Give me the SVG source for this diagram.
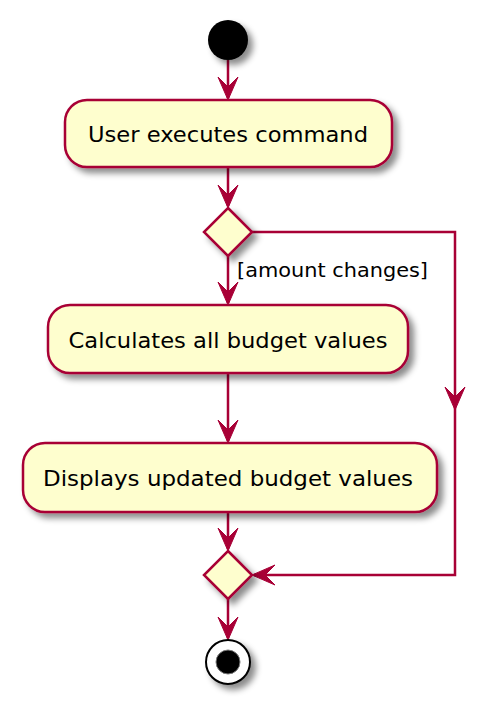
<svg xmlns="http://www.w3.org/2000/svg" xmlns:xlink="http://www.w3.org/1999/xlink" width="504" height="715" viewBox="0 0 504 715">
<style>
.box{fill:#FEFECE;stroke:#A80036;stroke-width:2.5;filter:url(#sh)}
.ln{fill:none;stroke:#A80036;stroke-width:2.5}
.ah{fill:#A80036;stroke:#A80036;stroke-width:1}
.t{font-family:"DejaVu Sans","Liberation Sans",sans-serif;font-size:22px;fill:#000;text-anchor:middle}
.lbl{font-family:"DejaVu Sans","Liberation Sans",sans-serif;font-size:20px;fill:#000}
</style>
<defs>
<filter id="sh" x="-20%" y="-20%" width="150%" height="160%">
<feGaussianBlur in="SourceAlpha" stdDeviation="3" result="b"/>
<feColorMatrix in="b" type="matrix" values="0 0 0 0 0  0 0 0 0 0  0 0 0 0 0  0 0 0 0.45 0" result="c"/>
<feOffset in="c" dx="5" dy="5" result="o"/>
<feMerge><feMergeNode in="o"/><feMergeNode in="SourceGraphic"/></feMerge>
</filter>
<path id="arr" class="ah" d="M0,0 L-10,-23 L0,-13 L10,-23 Z"/>
</defs>
<g id="connectors">
<line class="ln" x1="228" y1="60" x2="228" y2="98"/>
<use xlink:href="#arr" transform="translate(228,100)"/>
<line class="ln" x1="228" y1="167" x2="228" y2="206"/>
<use xlink:href="#arr" transform="translate(228,208)"/>
<line class="ln" x1="228" y1="256" x2="228" y2="303"/>
<use xlink:href="#arr" transform="translate(228,305)"/>
<line class="ln" x1="228" y1="373" x2="228" y2="441"/>
<use xlink:href="#arr" transform="translate(228,443)"/>
<line class="ln" x1="228" y1="512" x2="228" y2="549"/>
<use xlink:href="#arr" transform="translate(228,551)"/>
<polyline class="ln" points="252,232 455,232 455,575 254,575"/>
<use xlink:href="#arr" transform="translate(455,410)"/>
<use xlink:href="#arr" transform="translate(252,575) rotate(90)"/>
<line class="ln" x1="228" y1="599" x2="228" y2="638"/>
<use xlink:href="#arr" transform="translate(228,640)"/>
<text class="lbl" x="237" y="277" textLength="191" lengthAdjust="spacingAndGlyphs">[amount changes]</text>
</g>
<g id="start">
<circle cx="228" cy="40" r="20" fill="#000" filter="url(#sh)"/>
</g>
<g id="n1">
<rect class="box" x="65" y="100" width="327" height="67" rx="22" ry="22"/>
<text class="t" x="228" y="142" textLength="280" lengthAdjust="spacingAndGlyphs">User executes command</text>
</g>
<g id="d1">
<polygon class="box" points="228,208 252,232 228,256 204,232"/>
</g>
<g id="n2">
<rect class="box" x="48" y="305" width="360" height="68" rx="22" ry="22"/>
<text class="t" x="228" y="348" textLength="319" lengthAdjust="spacingAndGlyphs">Calculates all budget values</text>
</g>
<g id="n3">
<rect class="box" x="23" y="443" width="414" height="69" rx="22" ry="22"/>
<text class="t" x="228" y="486" textLength="370" lengthAdjust="spacingAndGlyphs">Displays updated budget values</text>
</g>
<g id="d2">
<polygon class="box" points="228,551 252,575 228,599 204,575"/>
</g>
<g id="end">
<circle cx="228" cy="662" r="22" fill="#fff" stroke="#000" stroke-width="2" filter="url(#sh)"/>
<circle cx="228" cy="662" r="12" fill="#000" stroke="#777" stroke-width="1"/>
</g>
</svg>
